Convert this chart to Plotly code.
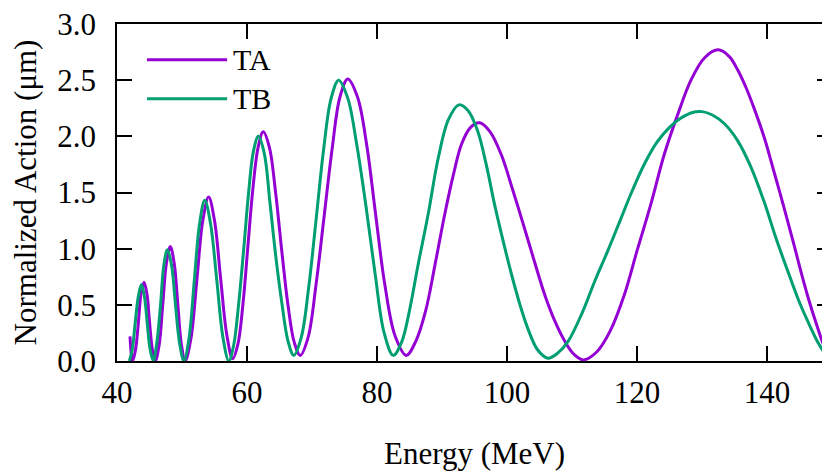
import plotly.graph_objects as go

# values
ta_energy = [42.0, 42.4, 42.85, 43.3, 43.7, 44.15, 44.6, 45.0, 45.45, 45.9,
             46.5, 47.05, 47.6, 48.2, 48.8, 49.35, 49.9, 50.5,
             51.4, 52.3, 53.2, 54.1, 55.0, 55.95, 56.9, 57.8,
             58.6, 59.4, 60.15, 60.9, 61.7, 62.5, 63.45, 64.4, 65.35, 66.3, 67.25, 68.2,
             69.4, 70.6, 71.85, 73.1, 74.3, 75.5, 77.0, 78.4, 79.8, 81.2, 82.8, 84.5,
             86.0, 87.5, 89.0, 90.4, 91.8, 93.0, 94.4, 95.8,
             97.4, 99.1, 100.9, 102.7, 104.3, 105.8, 107.4, 108.9, 110.3, 111.7,
             113.8, 115.9, 118.0, 120.0, 122.1, 124.2, 126.3, 128.3, 130.4, 132.5,
             134.2, 135.5, 136.8, 138.2, 139.6, 141.0, 142.5, 143.9, 145.2, 146.4,
             147.6, 148.8, 150.0]
ta_action = [0.22, 0.0, 0.10, 0.35, 0.60, 0.70, 0.60, 0.35, 0.10, 0.0,
             0.15, 0.51, 0.87, 1.02, 0.87, 0.51, 0.15, 0.0,
             0.21, 0.73, 1.25, 1.46, 1.25, 0.73, 0.23, 0.02,
             0.15, 0.52, 1.03, 1.53, 1.90, 2.04, 1.90, 1.50, 0.98, 0.50, 0.17, 0.05,
             0.21, 0.67, 1.28, 1.89, 2.35, 2.51, 2.35, 1.93, 1.30, 0.68, 0.22, 0.05,
             0.18, 0.45, 0.88, 1.30, 1.67, 1.93, 2.08, 2.12,
             2.04, 1.84, 1.52, 1.18, 0.87, 0.59, 0.35, 0.175, 0.06, 0.01,
             0.08, 0.27, 0.58, 0.98, 1.39, 1.84, 2.20, 2.50, 2.70, 2.77,
             2.71, 2.59, 2.43, 2.22, 1.985, 1.70, 1.39, 1.09, 0.80, 0.55,
             0.33, 0.13, 0.0]

tb_energy = [41.9, 42.35, 42.8, 43.3, 43.75, 44.2, 44.65, 45.1, 45.6,
             46.1, 46.7, 47.2, 47.75, 48.4, 49.0, 49.65, 50.3,
             51.1, 51.9, 52.7, 53.5, 54.4, 55.35, 56.3, 57.2,
             57.95, 58.7, 59.5, 60.25, 61.0, 61.75, 62.65, 63.55, 64.45, 65.4, 66.3, 67.2,
             68.35, 69.5, 70.65, 71.8, 72.95, 74.1, 75.5, 76.9, 78.3, 79.7, 81.1, 82.5,
             83.8, 85.0, 86.3, 87.85, 89.4, 91.0, 92.6,
             94.0, 95.5, 96.8, 98.1, 99.4, 100.7, 102.0, 103.2, 104.7, 106.3,
             107.8, 109.4, 111.5, 113.5, 115.5, 117.4, 119.3, 121.2, 123.1, 125.0,
             126.7, 128.4, 130.0, 131.6, 133.5, 135.5, 137.5, 139.6, 141.4, 143.2,
             144.8, 146.3, 147.8, 149.0, 150.0]
tb_action = [0.0, 0.10, 0.34, 0.58, 0.68, 0.58, 0.34, 0.10, 0.0,
             0.15, 0.50, 0.85, 0.99, 0.85, 0.50, 0.15, 0.0,
             0.21, 0.72, 1.22, 1.43, 1.22, 0.72, 0.21, 0.0,
             0.14, 0.50, 1.00, 1.50, 1.87, 2.00, 1.85, 1.40, 0.92, 0.50, 0.18, 0.05,
             0.21, 0.66, 1.27, 1.89, 2.34, 2.50, 2.34, 1.92, 1.38, 0.78, 0.25, 0.05,
             0.17, 0.45, 0.85, 1.30, 1.80, 2.15, 2.28,
             2.23, 2.045, 1.75, 1.39, 1.07, 0.77, 0.50, 0.29, 0.10, 0.025,
             0.07, 0.175, 0.42, 0.71, 0.98, 1.25, 1.52, 1.76, 1.95, 2.08,
             2.16, 2.21, 2.22, 2.19, 2.11, 1.96, 1.73, 1.41, 1.09, 0.80,
             0.55, 0.35, 0.17, 0.06, 0.0]

x_ticks = [40, 60, 80, 100, 120, 140]
y_ticks = [0.0, 0.5, 1.0, 1.5, 2.0, 2.5, 3.0]

purple = "#9400D3"
green = "#009E73"
font = "Liberation Serif"

fig = go.Figure()
fig.add_trace(go.Scatter(x=ta_energy, y=ta_action, mode="lines", name="TA",
                         line=dict(color=purple, width=3, shape="spline", smoothing=1)))
fig.add_trace(go.Scatter(x=tb_energy, y=tb_action, mode="lines", name="TB",
                         line=dict(color=green, width=3, shape="spline", smoothing=1)))

# legend drawn by hand so the sample lines are as long as in the original
for i, (name, col) in enumerate([("TA", purple), ("TB", green)]):
    yy = 0.894 - i * 0.116
    fig.add_shape(type="line", xref="paper", yref="paper", x0=0.042, x1=0.154,
                  y0=yy, y1=yy, line=dict(color=col, width=3))
    fig.add_annotation(xref="paper", yref="paper", x=0.160, y=yy, text=name,
                       showarrow=False, xanchor="left", yanchor="middle",
                       font=dict(family=font, size=30, color="black"))

axis = dict(showgrid=False, zeroline=False, showline=True, linecolor="black", linewidth=1.5,
            mirror="allticks", ticks="inside", ticklen=15, tickwidth=1.5, tickcolor="black",
            automargin=False, ticklabeloverflow="allow",
            tickfont=dict(family=font, size=31, color="black"))

fig.update_xaxes(range=[40, 150], tickvals=x_ticks, ticklabelstandoff=3,
                 title=dict(text="Energy (MeV)", font=dict(family=font, size=31, color="black"),
                            standoff=33),
                 **axis)
fig.update_yaxes(range=[0, 3.0], tickvals=y_ticks, tickformat=".1f", ticklabelstandoff=13,
                 title=dict(text="Normalized Action (μm)",
                            font=dict(family=font, size=31, color="black"), standoff=13),
                 **axis)

fig.update_layout(width=830, height=475, showlegend=False,
                  plot_bgcolor="white", paper_bgcolor="white",
                  margin=dict(l=109, r=6, t=16, b=122),
                  font=dict(family=font, color="black"))

fig.write_html("out.html")
